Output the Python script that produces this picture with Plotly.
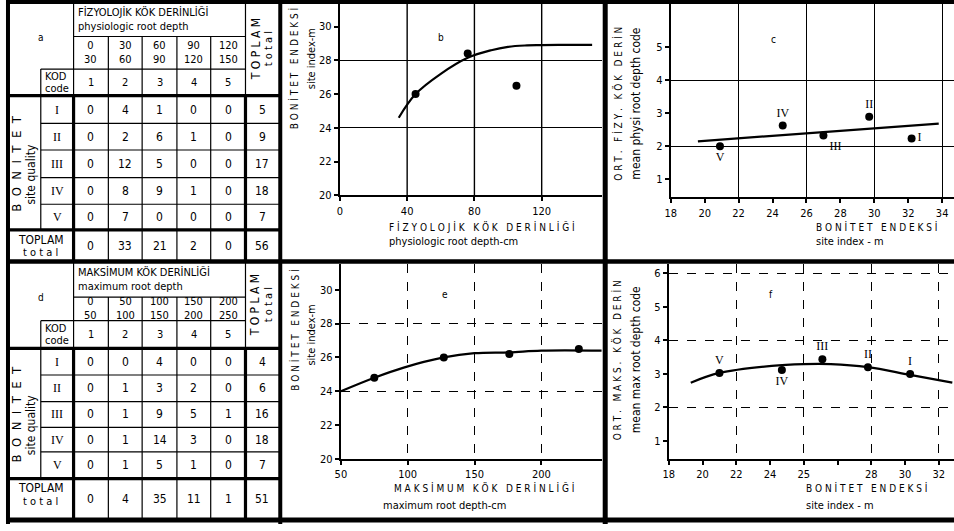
import plotly.graph_objects as go

W, H = 954, 531

# ---------------- data ----------------
quality_classes = ["I", "II", "III", "IV", "V"]
depth_codes = ["1", "2", "3", "4", "5"]

phys_ranges = ["0<br>30", "30<br>60", "60<br>90", "90<br>120", "120<br>150"]
phys_counts = [[0, 4, 1, 0, 0], [0, 2, 6, 1, 0], [0, 12, 5, 0, 0], [0, 8, 9, 1, 0], [0, 7, 0, 0, 0]]
phys_row_totals = [5, 9, 17, 18, 7]
phys_col_totals = [0, 33, 21, 2, 0]
phys_grand_total = 56

max_ranges = ["0<br>50", "50<br>100", "100<br>150", "150<br>200", "200<br>250"]
max_counts = [[0, 0, 4, 0, 0], [0, 1, 3, 2, 0], [0, 1, 9, 5, 1], [0, 1, 14, 3, 0], [0, 1, 5, 1, 0]]
max_row_totals = [4, 6, 16, 18, 7]
max_col_totals = [0, 4, 35, 11, 1]
max_grand_total = 51

# panel b: site index vs physiologic root depth
b_depth = [45, 76, 105]
b_site_index = [26.0, 28.4, 26.5]
b_fit_depth = [35, 45, 60, 76, 90, 100, 110, 120, 135, 150]
b_fit_site_index = [24.6, 26.0, 27.2, 28.15, 28.6, 28.8, 28.88, 28.9, 28.92, 28.92]

# panel c: mean physiologic root depth code vs site index
c_site_index = [32.2, 29.7, 27.0, 24.6, 20.9]
c_mean_code = [2.24, 2.9, 2.33, 2.63, 2.0]
c_labels = ["I", "II", "III", "IV", "V"]
c_fit_site_index = [19.6, 33.8]
c_fit_mean_code = [2.15, 2.69]

# panel e: site index vs maximum root depth
e_depth = [75, 127, 176, 228]
e_site_index = [24.8, 26.0, 26.2, 26.5]
e_fit_depth = [50, 75, 97, 127, 150, 176, 200, 245]
e_fit_site_index = [24.0, 24.8, 25.4, 26.0, 26.25, 26.3, 26.4, 26.4]

# panel f: mean maximum root depth code vs site index
f_site_index = [32.3, 29.8, 27.1, 24.7, 21.0]
f_mean_code = [3.0, 3.2, 3.44, 3.12, 3.03]
f_labels = ["I", "II", "III", "IV", "V"]
f_fit_site_index = [19.3, 21.0, 24.1, 26.0, 27.6, 29.8, 32.3, 34.8]
f_fit_mean_code = [2.74, 3.03, 3.24, 3.29, 3.29, 3.2, 2.97, 2.74]

# ---------------- helpers ----------------
FONT = "DejaVu Sans Condensed"
SERIF = "Liberation Serif"
NB = "\u00a0"


def spaced(s, gap=1):
    out = []
    for word in s.split(" "):
        out.append((NB * gap).join(list(word)))
    return (NB * (gap + 2)).join(out)


def px(x):
    return x / W


def py(y):
    return 1 - y / H


shapes = []
annotations = []


def line(x0, y0, x1, y1, w=1.2):
    shapes.append(dict(type="line", xref="paper", yref="paper",
                       x0=px(x0), y0=py(y0), x1=px(x1), y1=py(y1),
                       line=dict(color="black", width=w)))


def txt(x, y, s, size=11, angle=0, xanchor="center", family=FONT):
    annotations.append(dict(xref="paper", yref="paper", x=px(x), y=py(y), text=s,
                            showarrow=False, textangle=angle, xanchor=xanchor,
                            yanchor="middle", font=dict(family=family, size=size, color="black")))


# ---------------- tables ----------------
col_x = [3, 35, 68, 103, 137, 172, 206, 241, 275]


def draw_table(rows, letter, title1, title2, ranges, counts, row_totals, col_totals, grand):
    TH, TK = 1.2, 3.2
    line(68, rows[1], 241, rows[1], TH)
    line(35, rows[2], 241, rows[2], TH)
    line(3, rows[3], 275, rows[3], TK)
    for r in rows[4:8]:
        line(35, r, 275, r, TH)
    line(3, rows[8], 275, rows[8], TK)
    line(35, rows[2], 35, rows[8], TH)
    line(68, rows[0], 68, rows[3], TH)
    line(68, rows[3], 68, rows[9], TK)
    for cx in col_x[3:7]:
        line(cx, rows[1], cx, rows[9], TH)
    line(241, rows[0], 241, rows[3], TH)
    line(241, rows[3], 241, rows[9], TK)

    txt(35, rows[0] + 36, letter, 10)
    txt(70, rows[0] + 11, title1, 11, xanchor="left")
    txt(70, rows[0] + 25, title2, 11, xanchor="left")
    centers = [(col_x[i] + col_x[i + 1]) / 2 for i in range(2, 7)]
    tot_c = (col_x[7] + col_x[8]) / 2
    for c, rng, code in zip(centers, ranges, depth_codes):
        txt(c, (rows[1] + rows[2]) / 2, rng, 11)
        txt(c, (rows[2] + rows[3]) / 2, code, 11)
    txt(37, rows[2] + 8, "KOD", 11, xanchor="left")
    txt(37, rows[2] + 20, "code", 11, xanchor="left")
    for k, (q, vals, tot) in enumerate(zip(quality_classes, counts, row_totals)):
        yc = (rows[3 + k] + rows[4 + k]) / 2
        txt(51.5, yc, q, 12, family=SERIF)
        for c, v in zip(centers, vals):
            txt(c, yc, str(v), 12)
        txt(tot_c, yc, str(tot), 12)
    yc = (rows[8] + rows[9]) / 2
    for c, v in zip(centers, col_totals):
        txt(c, yc, str(v), 12)
    txt(tot_c, yc, str(grand), 12)
    txt(35, rows[8] + 10, "TOPLAM", 12)
    txt(35, rows[8] + 23, spaced("total"), 11)
    txt(11, (rows[3] + rows[8]) / 2, spaced("BONITET", 2), 13, angle=-90)
    txt(25, (rows[3] + rows[8]) / 2 + 12, "site quality", 12, angle=-90)
    txt(251, (rows[0] + rows[3]) / 2, spaced("TOPLAM"), 12, angle=-90)
    txt(265, (rows[0] + rows[3]) / 2, spaced("total"), 11, angle=-90)


draw_table([2, 37, 70, 97, 125, 152, 180, 207, 233, 265], "a",
           "FİZYOLOJİK KÖK DERİNLİĞİ", "physiologic root depth",
           phys_ranges, phys_counts, phys_row_totals, phys_col_totals, phys_grand_total)
draw_table([265, 301, 325, 353, 380, 407, 433, 458, 485, 526], "d",
           "MAKSİMUM KÖK DERİNLİĞİ", "maximum root depth",
           max_ranges, max_counts, max_row_totals, max_col_totals, max_grand_total)

# frame
line(0, 2, W, 2, 4)
line(2, 0, 2, H, 4)
line(0, 265, W, 265, 4.5)
line(0, 527, W, 527, 5)
line(276, 0, 276, H, 4)
line(603, 0, 603, H, 5)

# ---------------- panel texts ----------------
txt(438, 38, "b", 10)
txt(772, 40, "c", 10)
txt(442, 298, "e", 10)
txt(770, 298, "f", 10)

txt(290, 70, spaced("BONİTET ENDEKSİ"), 10, angle=-90)
txt(307, 60, "site index-m", 11, angle=-90)
txt(290, 335, spaced("BONİTET ENDEKSİ"), 10, angle=-90)
txt(307, 340, "site index-m", 11, angle=-90)

txt(383, 230, spaced("FİZYOLOJİK KÖK DERİNLİĞİ"), 10, xanchor="left")
txt(383, 245, "physiologic root depth-cm", 11, xanchor="left")
txt(388, 495, spaced("MAKSİMUM KÖK DERİNLİĞİ"), 10, xanchor="left")
txt(377, 512, "maximum root depth-cm", 11, xanchor="left")

txt(615, 105, spaced("ORT. FİZY. KÖK DERİN"), 10, angle=-90)
txt(634, 105, "mean physi root depth code", 12, angle=-90)
txt(615, 365, spaced("ORT. MAKS. KÖK DERİN"), 10, angle=-90)
txt(634, 365, "mean max root depth code", 12, angle=-90)

txt(813, 230, spaced("BONİTET ENDEKSİ"), 10, xanchor="left")
txt(813, 245, "site index - m", 11, xanchor="left")
txt(803, 495, spaced("BONİTET ENDEKSİ"), 10, xanchor="left")
txt(803, 512, "site index - m", 11, xanchor="left")

# ---------------- figure ----------------
fig = go.Figure()
mk = dict(color="black", size=8)
ln = dict(color="black", width=2.2, shape="spline", smoothing=1.0)

b_xr, b_yr = [0, 156], [20, 31.4]
c_xr, c_yr = [18, 34.7], [0.45, 6.35]
e_xr, e_yr = [50, 245.5], [20, 31.5]
f_xr, f_yr = [18, 34.9], [0.47, 6.26]

# vertical grid of panel b, drawn as a line trace through the panel's own scales
b_grid_x = [40, 80, 120]
gx, gy = [], []
for g in b_grid_x:
    gx += [g, g, None]
    gy += [b_yr[0], b_yr[1], None]
fig.add_trace(go.Scatter(x=gx, y=gy, mode="lines", line=dict(color="black", width=1.4),
                         hoverinfo="skip", cliponaxis=False, xaxis="x2", yaxis="y2"))

# panel axes: b -> x2/y2, c -> x3/y3, e -> x4/y4, f -> x5/y5 ; grid overlays x6..x9 / y6..y9
fig.add_trace(go.Scatter(x=b_fit_depth, y=b_fit_site_index, mode="lines", line=ln, xaxis="x2", yaxis="y2"))
fig.add_trace(go.Scatter(x=b_depth, y=b_site_index, mode="markers", marker=mk, xaxis="x2", yaxis="y2"))

fig.add_trace(go.Scatter(x=c_fit_site_index, y=c_fit_mean_code, mode="lines",
                         line=dict(color="black", width=2.2), xaxis="x3", yaxis="y3"))
fig.add_trace(go.Scatter(x=c_site_index, y=c_mean_code, mode="markers+text", marker=mk,
                         text=c_labels,
                         textposition=["middle right", "top center", "bottom right", "top center", "bottom center"],
                         textfont=dict(family=SERIF, size=12, color="black"), xaxis="x3", yaxis="y3"))

fig.add_trace(go.Scatter(x=e_fit_depth, y=e_fit_site_index, mode="lines", line=ln, xaxis="x4", yaxis="y4"))
fig.add_trace(go.Scatter(x=e_depth, y=e_site_index, mode="markers", marker=mk, xaxis="x4", yaxis="y4"))

fig.add_trace(go.Scatter(x=f_fit_site_index, y=f_fit_mean_code, mode="lines", line=ln, xaxis="x5", yaxis="y5"))
fig.add_trace(go.Scatter(x=f_site_index, y=f_mean_code, mode="markers+text", marker=mk,
                         text=f_labels,
                         textposition=["top center", "top center", "top center", "bottom center", "top center"],
                         textfont=dict(family=SERIF, size=12, color="black"), xaxis="x5", yaxis="y5"))

# empty traces that register the grid-only overlay axes
for xa, ya in [("x6", "y6"), ("x7", "y7"), ("x8", "y8"), ("x9", "y9")]:
    fig.add_trace(go.Scatter(x=[], y=[], mode="markers", xaxis=xa, yaxis=ya, hoverinfo="skip"))

tickfont = dict(family=FONT, size=11, color="black")


def main_axis(domain, rng, tickvals, anchor, ticktext=None):
    d = dict(domain=domain, range=rng, tickvals=tickvals, anchor=anchor,
             showline=True, linecolor="black", linewidth=2.2,
             ticks="outside", ticklen=4, tickwidth=1.5, tickcolor="black",
             tickfont=tickfont, showgrid=False, zeroline=False, fixedrange=True)
    if ticktext is not None:
        d["ticktext"] = ticktext
    return d


def grid_axis(over, anchor, rng, tickvals, dash="solid"):
    return dict(overlaying=over, anchor=anchor, range=rng, tickvals=tickvals,
                showticklabels=False, ticks="", showline=False, showgrid=True,
                gridcolor="black", gridwidth=1.4, griddash=dash, zeroline=False, fixedrange=True)


top_dom = [py(198), py(3)]
c_dom = [py(200), py(3)]
bot_dom = [py(465), py(268)]

fig.update_layout(
    width=W, height=H, margin=dict(l=0, r=0, t=0, b=0),
    paper_bgcolor="white", plot_bgcolor="rgba(0,0,0,0)",
    showlegend=False, shapes=shapes, annotations=annotations,
    # panel b
    xaxis2=main_axis([px(336), px(600)], b_xr, [0, 40, 80, 120], "y2"),
    yaxis2=main_axis(top_dom, b_yr, [20, 22, 24, 26, 28, 30], "x2"),
    yaxis6=grid_axis("y2", "x2", b_yr, [24, 28]),
    xaxis6=dict(overlaying="x2", anchor="y6", range=b_xr, showgrid=False, showticklabels=False,
                ticks="", showline=False, zeroline=False, fixedrange=True),
    # panel c
    xaxis3=main_axis([px(669), 1.0], c_xr, list(range(18, 35, 2)), "y3"),
    yaxis3=main_axis(c_dom, c_yr, [1, 2, 3, 4, 5], "x3"),
    xaxis7=grid_axis("x3", "y7", c_xr, [22, 26, 30, 34]),
    yaxis7=grid_axis("y3", "x7", c_yr, [2, 4]),
    # panel e
    xaxis4=main_axis([px(337), px(600)], e_xr, [50, 100, 150, 200], "y4"),
    yaxis4=main_axis(bot_dom, e_yr, [20, 22, 24, 26, 28, 30], "x4"),
    xaxis8=grid_axis("x4", "y8", e_xr, [100, 150, 200], dash="dash"),
    yaxis8=grid_axis("y4", "x8", e_yr, [24, 28], dash="dash"),
    # panel f
    xaxis5=main_axis([px(667), 1.0], f_xr, list(range(18, 35, 2)), "y5",
                     ticktext=["18", "20", "22", "24", "25", "", "28", "30", "32"]),
    yaxis5=main_axis(bot_dom, f_yr, [1, 2, 3, 4, 5, 6], "x5"),
    xaxis9=grid_axis("x5", "y9", f_xr, [22, 26, 30, 34], dash="dash"),
    yaxis9=grid_axis("y5", "x9", f_yr, [2, 4, 6], dash="dash"),
)

fig.write_html("out.html")
